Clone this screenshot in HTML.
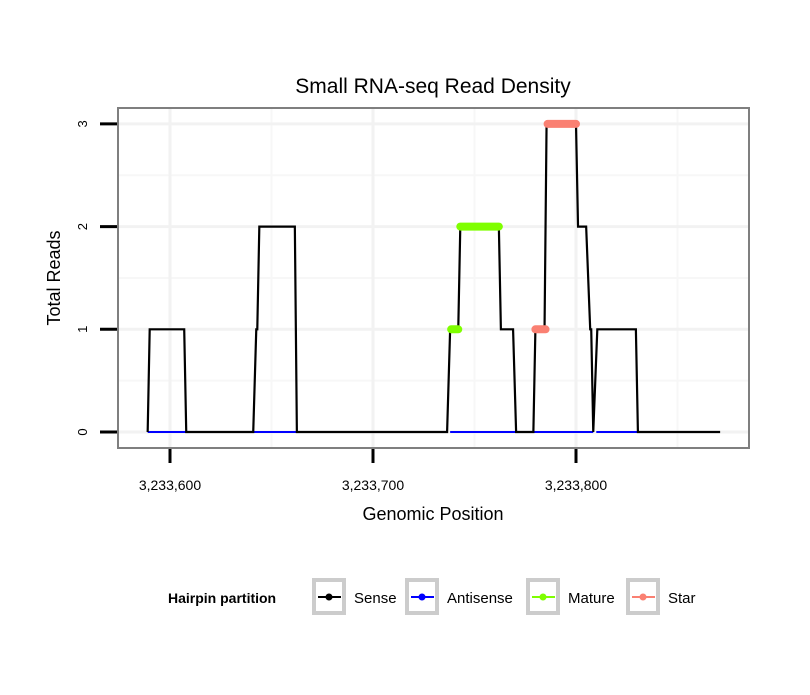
<!DOCTYPE html>
<html><head><meta charset="utf-8"><style>
body{margin:0;background:#fff;font-family:"Liberation Sans",sans-serif}
</style></head><body>
<svg width="810" height="690" xmlns="http://www.w3.org/2000/svg" font-family="Liberation Sans, sans-serif">
<rect width="810" height="690" fill="#fff"/>
<text x="433" y="93" font-size="21" text-anchor="middle">Small RNA-seq Read Density</text>
<g id="grid"></g>
<g id="marks"></g>
<rect x="118" y="108" width="631" height="340" fill="none" stroke="#7f7f7f" stroke-width="2"/>
<g id="axes"></g>
<text x="433" y="520" font-size="18" text-anchor="middle">Genomic Position</text>
<text transform="translate(60,278) rotate(-90)" font-size="18" text-anchor="middle">Total Reads</text>
<g id="legend">
<text x="168" y="603" font-size="14" font-weight="bold">Hairpin partition</text>
</g>
</svg>
<script>
const xTicks=[3233600,3233700,3233800];
const xTickLabels=["3,233,600","3,233,700","3,233,800"];
const yTicks=[0,1,2,3];
const senseX=[3233589,3233590,3233607,3233608,3233641,3233642.5,3233643,3233644,3233661.5,3233662.5,3233736.5,3233738,3233742,3233743,3233762,3233763,3233769,3233770.5,3233779,3233780,3233784.5,3233785.5,3233800,3233801,3233805,3233807,3233807.5,3233808.5,3233810.5,3233829.5,3233830.5,3233871];
const senseY=[0,1,1,0,0,1,1,2,2,0,0,1,1,2,2,1,1,0,0,1,1,3,3,2,2,1,1,0,1,1,0,0];
const antisenseStart=[3233589,3233641,3233738,3233779,3233810];
const antisenseEnd=[3233608,3233662.5,3233770.5,3233808.5,3233830.5];
const matureStart=[3233738.5,3233743];
const matureEnd=[3233742,3233762];
const matureY=[1,2];
const starStart=[3233780,3233786];
const starEnd=[3233785,3233800];
const starY=[1,3];
const legendLabels=["Sense","Antisense","Mature","Star"];
const legendColors=["#000","#0000ff","#7fff00","#fa8072"];

const NS="http://www.w3.org/2000/svg";
const sx=v=>170+(v-3233600)*2.03;
const sy=v=>432-v*102.7;
function mk(tag,attrs,parent){const e=document.createElementNS(NS,tag);for(const k in attrs)e.setAttribute(k,attrs[k]);parent.appendChild(e);return e;}
const grid=document.getElementById('grid'),marks=document.getElementById('marks'),axes=document.getElementById('axes'),legend=document.getElementById('legend');
for(let i=-1;i<xTicks.length;i++){const v=xTicks[0]+(i+0.5)*100;const x=sx(v);if(x>118&&x<749){const l=mk('line',{x1:x,x2:x,y1:109,y2:447,stroke:'#f7f7f7','stroke-width':2},grid);

}}
for(let i=0;i<yTicks.length;i++){const y=sy(yTicks[i]+0.5);if(y>109&&y<447){const l=mk('line',{x1:119,x2:748,y1:y,y2:y,stroke:'#f7f7f7','stroke-width':2},grid);

}}
xTicks.forEach((v,i)=>{const x=sx(v);
const g=mk('line',{x1:x,x2:x,y1:109,y2:447,stroke:'#f2f2f2','stroke-width':3},grid);


const t=mk('line',{x1:x,x2:x,y1:449,y2:463,stroke:'#000','stroke-width':3},axes);


const tx=mk('text',{x:x,y:490,'font-size':14,'text-anchor':'middle'},axes);tx.textContent=xTickLabels[i];

});
yTicks.forEach(v=>{const y=sy(v);
const g=mk('line',{x1:119,x2:748,y1:y,y2:y,stroke:'#f2f2f2','stroke-width':3},grid);


const t=mk('line',{x1:100,x2:117,y1:y,y2:y,stroke:'#000','stroke-width':3},axes);


const tx=mk('text',{transform:`translate(87,${y}) rotate(-90)`,'font-size':13,'text-anchor':'middle'},axes);tx.textContent=String(v);

});
antisenseStart.forEach((s,i)=>{const l=mk('line',{x1:sx(s),x2:sx(antisenseEnd[i]),y1:sy(0),y2:sy(0),stroke:'#0000ff','stroke-width':2},marks);

});
const p=mk('polyline',{points:senseX.map((x,i)=>sx(x)+','+sy(senseY[i])).join(' '),fill:'none',stroke:'#000','stroke-width':2.2},marks);


function seg(starts,ends,ys,col,name){starts.forEach((s,i)=>{const l=mk('line',{x1:sx(s),x2:sx(ends[i]),y1:sy(ys[i]),y2:sy(ys[i]),stroke:col,'stroke-width':8,'stroke-linecap':'round'},marks);

});}
seg(matureStart,matureEnd,matureY,'#7fff00','mature-segment');
seg(starStart,starEnd,starY,'#fa8072','star-segment');
const lx=[314,407,528,628];
legendLabels.forEach((lab,i)=>{const x=lx[i];
const g=mk('g',{},legend);


mk('rect',{x:x,y:580,width:30,height:33,fill:'#fff',stroke:'#cccccc','stroke-width':4},g);
mk('line',{x1:x+4,x2:x+27,y1:597,y2:597,stroke:legendColors[i],'stroke-width':2},g);
mk('circle',{cx:x+15,cy:597,r:3.5,fill:legendColors[i]},g);
const t=mk('text',{x:x+40,y:603,'font-size':15},g);t.textContent=lab;});
</script>
</body></html>
